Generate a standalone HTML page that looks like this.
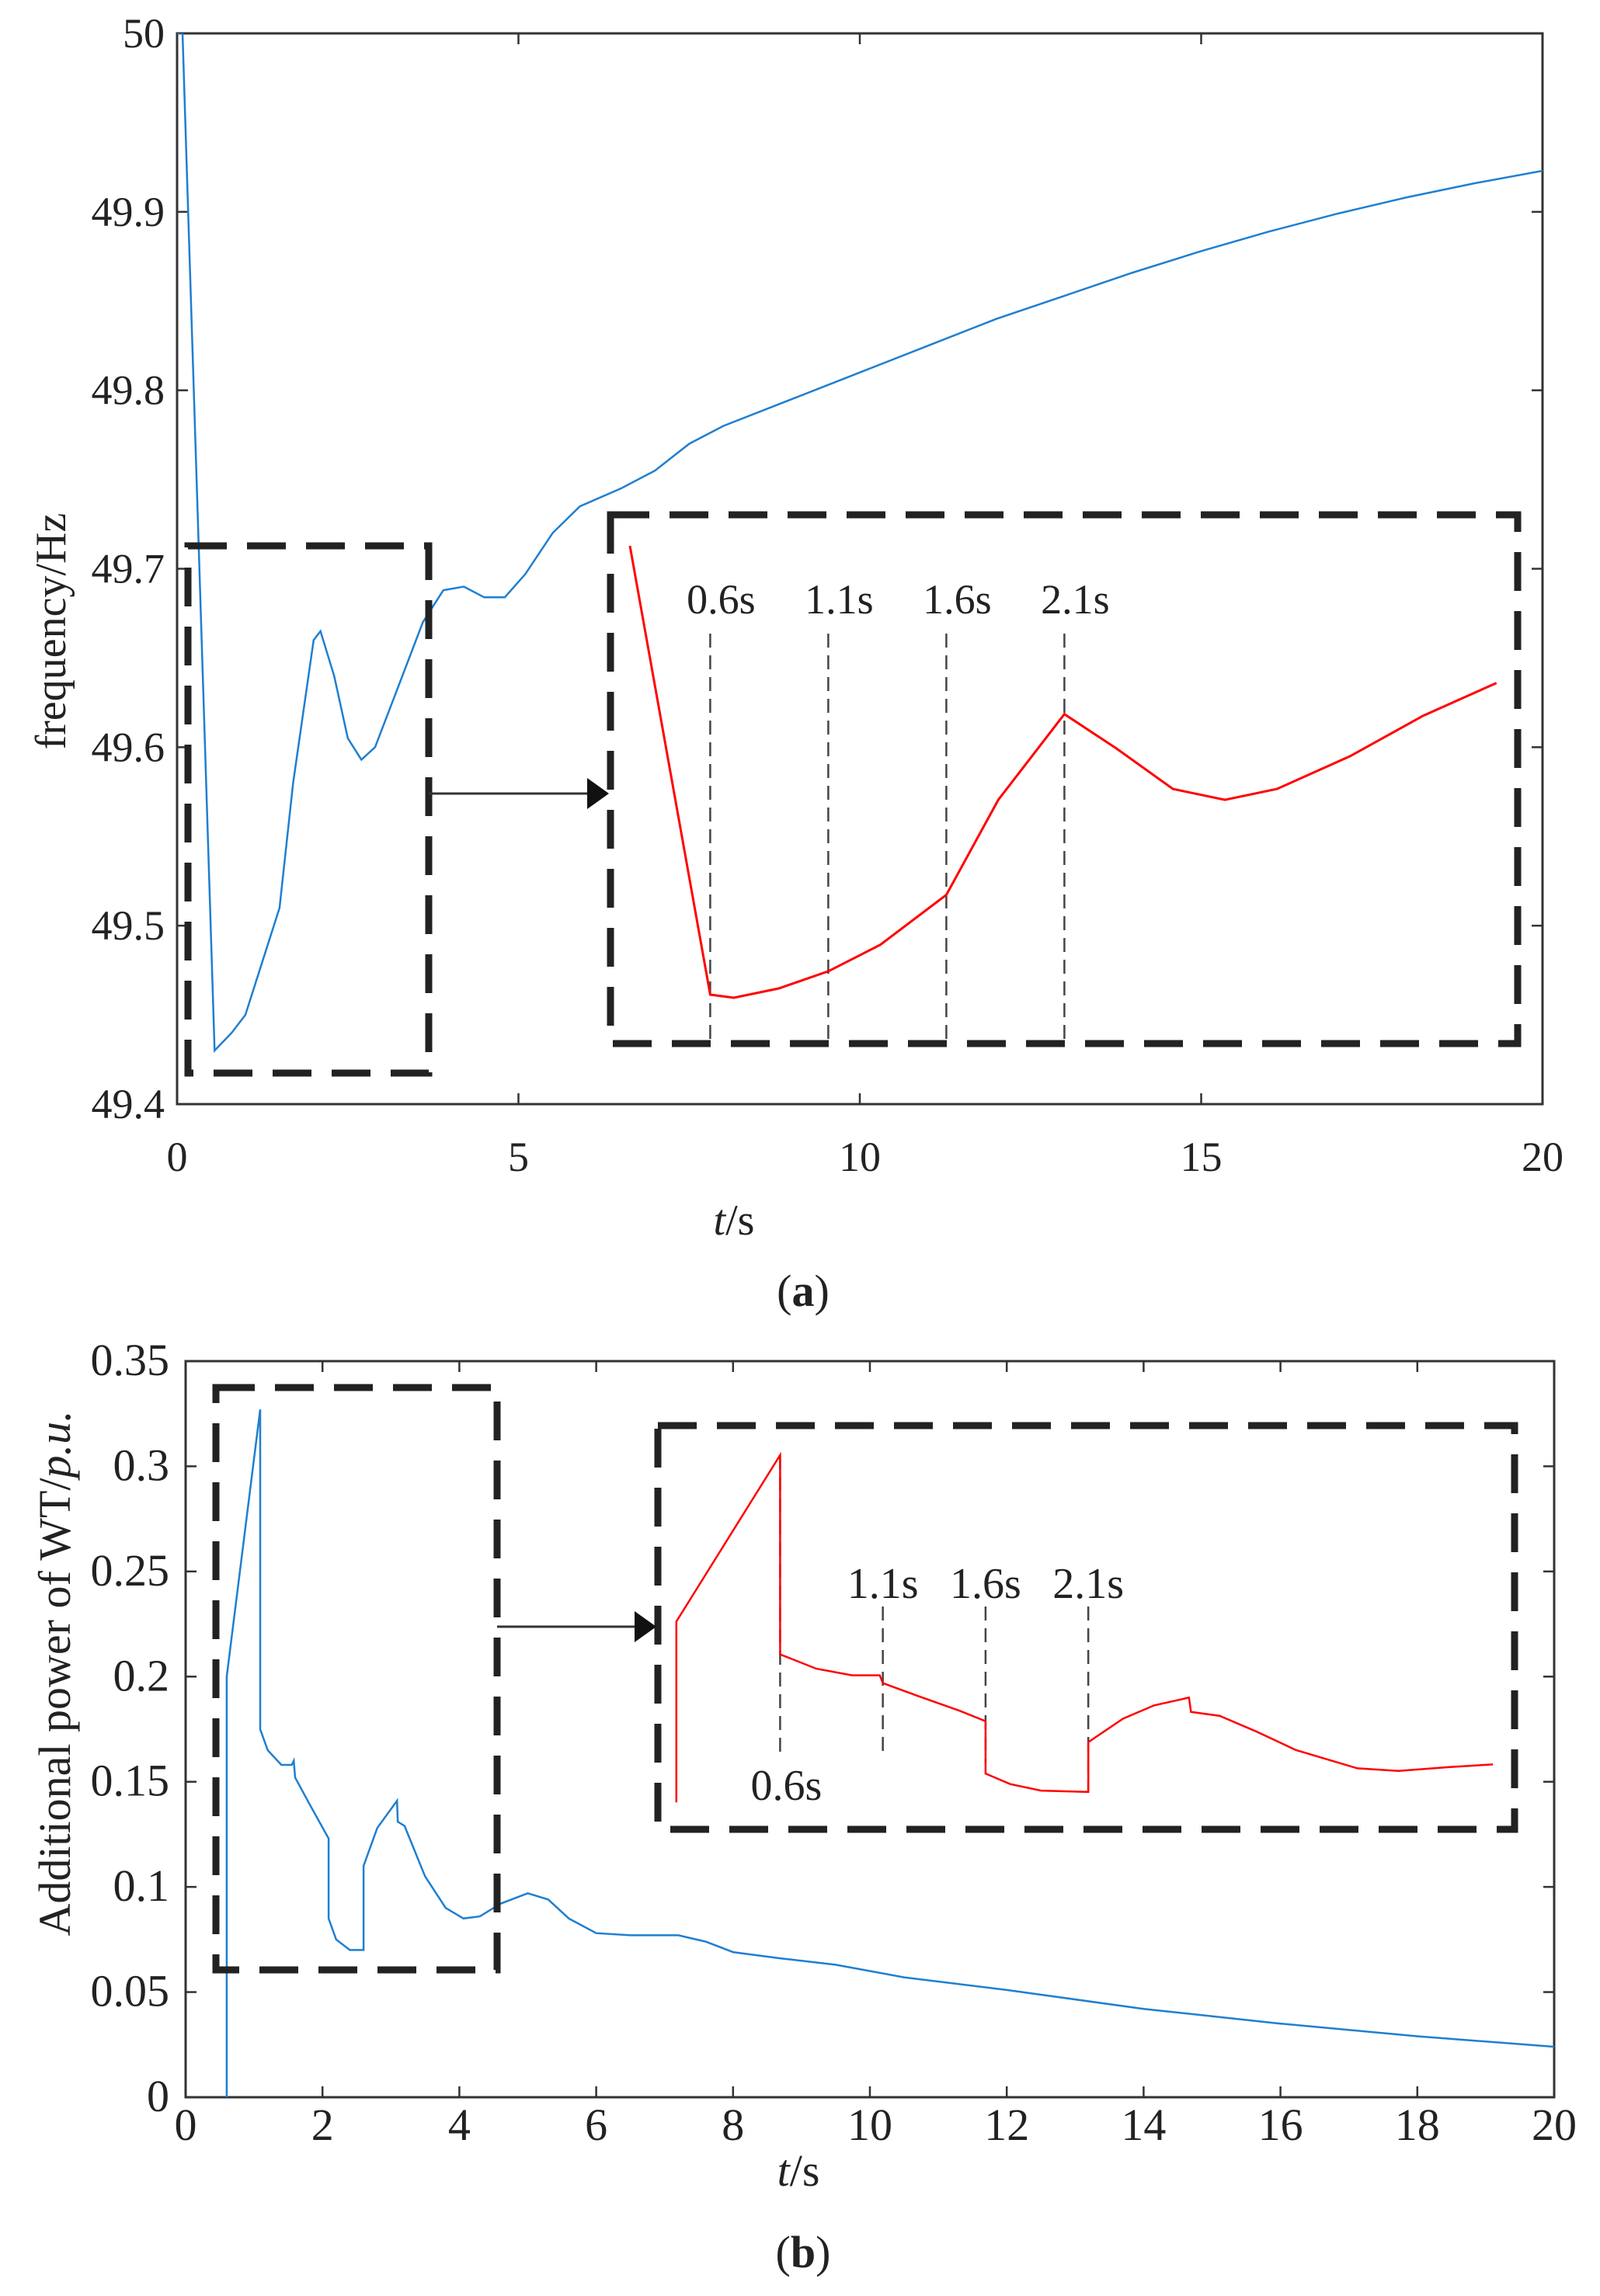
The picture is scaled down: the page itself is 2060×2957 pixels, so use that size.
<!DOCTYPE html>
<html><head><meta charset="utf-8">
<style>
html,body{margin:0;padding:0;background:#fff;}
svg{display:block;}
text{font-family:"Liberation Serif",serif;fill:#222;}
</style></head>
<body>
<svg id="fig" width="2060" height="2957" viewBox="0 0 2060 2957" xmlns="http://www.w3.org/2000/svg"></svg>
<script>
// ---------- data: chart (a) ----------
const aTime = [0,0.08,0.55,0.8,1.0,1.5,1.7,2.0,2.1,2.3,2.5,2.7,2.9,3.2,3.6,3.9,4.2,4.5,4.8,5.1,5.5,5.9,6.5,7.0,7.5,8,9,10,11,12,13,14,15,16,17,18,19,20];
const aFreq = [50,50,49.43,49.44,49.45,49.51,49.58,49.66,49.665,49.64,49.605,49.593,49.6,49.63,49.67,49.688,49.69,49.684,49.684,49.697,49.72,49.735,49.745,49.755,49.77,49.78,49.795,49.81,49.825,49.84,49.853,49.866,49.878,49.889,49.899,49.908,49.916,49.923];
const aYTicks = [49.4,49.5,49.6,49.7,49.8,49.9,50];
const aYTickLabels = ["49.4","49.5","49.6","49.7","49.8","49.9","50"];
const aXTicks = [0,5,10,15,20];
const aInsetTime = [0.26,0.6,0.7,0.89,1.1,1.32,1.6,1.82,2.1,2.32,2.56,2.78,3.0,3.31,3.62,3.93];
const aInsetFreq = [49.72,49.432,49.43,49.436,49.447,49.464,49.496,49.557,49.612,49.59,49.564,49.557,49.564,49.585,49.611,49.632];
const aMarkers = [0.6,1.1,1.6,2.1];
const aMarkerLabels = ["0.6s","1.1s","1.6s","2.1s"];
// ---------- data: chart (b) ----------
const bTime = [0.6,0.6,1.09,1.09,1.2,1.4,1.55,1.58,1.6,1.8,2.09,2.09,2.2,2.4,2.6,2.6,2.8,3.09,3.1,3.2,3.5,3.8,4.06,4.3,4.6,5.0,5.3,5.6,6.0,6.5,7.2,7.6,8.0,8.7,9.5,10.5,12,14,16,18,20];
const bPower = [0,0.2,0.327,0.175,0.165,0.158,0.158,0.16,0.152,0.14,0.123,0.085,0.075,0.07,0.07,0.11,0.128,0.141,0.131,0.129,0.105,0.09,0.085,0.086,0.092,0.097,0.094,0.085,0.078,0.077,0.077,0.074,0.069,0.066,0.063,0.057,0.051,0.042,0.035,0.029,0.024];
const bYTicks = [0,0.05,0.1,0.15,0.2,0.25,0.3,0.35];
const bYTickLabels = ["0","0.05","0.1","0.15","0.2","0.25","0.3","0.35"];
const bXTicks = [0,2,4,6,8,10,12,14,16,18,20];
const bInsetTime = [0.095,0.095,0.6,0.6,0.776,0.95,1.085,1.1,1.274,1.473,1.6,1.6,1.72,1.87,2.1,2.1,2.27,2.42,2.59,2.6,2.74,2.92,3.11,3.41,3.61,3.86,4.07];
const bInsetPower = [0.062,0.200,0.327,0.175,0.164,0.159,0.159,0.153,0.143,0.132,0.124,0.084,0.076,0.071,0.070,0.108,0.126,0.136,0.142,0.131,0.128,0.116,0.102,0.088,0.086,0.089,0.091];
const bMarkers = [0.6,1.1,1.6,2.1];
const bMarkerLabels = ["0.6s","1.1s","1.6s","2.1s"];

const NS="http://www.w3.org/2000/svg";
const svg=document.getElementById('fig');
function el(tag,attrs,parent,text){const e=document.createElementNS(NS,tag);for(const k in attrs)e.setAttribute(k,attrs[k]);if(text!==undefined)e.textContent=text;(parent||svg).appendChild(e);return e;}
function lin(d0,d1,r0,r1){return v=>r0+(v-d0)/(d1-d0)*(r1-r0);}
function pathD(xs,ys,fx,fy){return xs.map((t,i)=>(i?'L':'M')+fx(t).toFixed(1)+','+fy(ys[i]).toFixed(1)).join(' ');}

function axesFrame(g,L,T,R,B,xT,xs,yT,ys,yLab,xLabY,yLabX,fs){
  const fr=el('rect',{x:L,y:T,width:R-L,height:B-T,fill:'none',stroke:'#333','stroke-width':3},g);
  
  xT.forEach(v=>{const x=xs(v);
    el('line',{x1:x,y1:B,x2:x,y2:B-14,stroke:'#333','stroke-width':2.5},g);
    el('line',{x1:x,y1:T,x2:x,y2:T+14,stroke:'#333','stroke-width':2.5},g);
    const t=el('text',{x:x,y:xLabY,'font-size':fs,'text-anchor':'middle'},g,String(v));
    });
  yT.forEach((v,i)=>{const y=ys(v);
    el('line',{x1:L,y1:y,x2:L+14,y2:y,stroke:'#333','stroke-width':2.5},g);
    el('line',{x1:R,y1:y,x2:R-14,y2:y,stroke:'#333','stroke-width':2.5},g);
    const t=el('text',{x:yLabX,y:y+18,'font-size':fs,'text-anchor':'end'},g,yLab[i]);
    });
}
function dashBox(g,x,y,w,h,name){const r=el('rect',{x:x,y:y,width:w,height:h,fill:'none',stroke:'#222','stroke-width':9,'stroke-dasharray':'50 26'},g);
  }
function arrow(g,x1,x2,y,name){const a=el('g',{},g);
  el('line',{x1:x1,y1:y,x2:x2-24,y2:y,stroke:'#333','stroke-width':3},a);
  el('polygon',{points:`${x2-28},${y-20} ${x2},${y} ${x2-28},${y+20}`,fill:'#111'},a);}

// ===== chart (a) =====
const ga=el('g',{});
const axL=228,axR=1986,axT=43,axB=1422;
const ax=lin(0,20,axL,axR), ay=lin(49.4,50,axB,axT);
axesFrame(ga,axL,axT,axR,axB,aXTicks,ax,aYTicks,ay,aYTickLabels,1508,212,54);
const cpA=el('clipPath',{id:'cpa'},ga);el('rect',{x:axL,y:axT,width:axR-axL,height:axB-axT},cpA);
const la=el('path',{d:pathD(aTime,aFreq,ax,ay),fill:'none',stroke:'#1f7fd0','stroke-width':2.5,'clip-path':'url(#cpa)'},ga);

dashBox(ga,242,703,310,679,'zoom-source-box-a');
dashBox(ga,786,663,1168,681,'zoom-inset-box-a');
arrow(ga,552,784,1022,'zoom-arrow-a');
const aix=lin(0,1,732,1036), aiy=v=>1285-(v-49.43)*2007;
aMarkers.forEach((m,i)=>{const x=aix(m);
  const l=el('line',{x1:x,y1:816,x2:x,y2:1342,stroke:'#444','stroke-width':2.5,'stroke-dasharray':'18 10'},ga);
  
  const t=el('text',{x:x+14,y:790,'font-size':54,'text-anchor':'middle'},ga,aMarkerLabels[i]);
  });
const ra=el('path',{d:pathD(aInsetTime,aInsetFreq,aix,aiy),fill:'none',stroke:'#ff0000','stroke-width':3},ga);

let t1=el('text',{x:0,y:0,'font-size':56,'text-anchor':'middle',transform:'translate(84,813) rotate(-90)'},ga,'frequency/Hz');

t1=el('text',{x:945,y:1590,'font-size':56,'text-anchor':'middle'},ga);

el('tspan',{'font-style':'italic'},t1,'t');el('tspan',{},t1,'/s');
t1=el('text',{x:1034,y:1682,'font-size':58,'text-anchor':'middle'},ga);

el('tspan',{},t1,'(');el('tspan',{'font-weight':'bold'},t1,'a');el('tspan',{},t1,')');

// ===== chart (b) =====
const gb=el('g',{});
const bxL=239,bxR=2001,byT=1753,byB=2701;
const bx=lin(0,20,bxL,bxR), by=lin(0,0.35,byB,byT);
axesFrame(gb,bxL,byT,bxR,byB,bXTicks,bx,bYTicks,by,bYTickLabels,2756,218,58);
const lb=el('path',{d:pathD(bTime,bPower,bx,by),fill:'none',stroke:'#1f7fd0','stroke-width':2.5},gb);

dashBox(gb,278,1787,362,750,'zoom-source-box-b');
dashBox(gb,847,1836,1103,520,'zoom-inset-box-b');
arrow(gb,640,845,2095,'zoom-arrow-b');
const bix=lin(0,1,845.7,1110.2), biy=v=>1874+(0.327-v)*1688;
const bMarkTop=[1874,2069,2069,2069], bMarkBot=[2261,2265,2270,2307];
bMarkers.forEach((m,i)=>{const x=bix(m);
  const l=el('line',{x1:x,y1:bMarkTop[i],x2:x,y2:bMarkBot[i],stroke:'#444','stroke-width':2.5,'stroke-dasharray':'18 10'},gb);
  
  const t=el('text',{x:i===0?x+8:x,y:i===0?2318:2058,'font-size':56,'text-anchor':'middle'},gb,bMarkerLabels[i]);
  });
const rb=el('path',{d:pathD(bInsetTime,bInsetPower,bix,biy),fill:'none',stroke:'#ff0000','stroke-width':2.5},gb);

t1=el('text',{x:0,y:0,'font-size':58,'text-anchor':'middle',transform:'translate(90,2155) rotate(-90)'},gb);

el('tspan',{},t1,'Additional power of WT/');el('tspan',{'font-style':'italic'},t1,'p.u.');
t1=el('text',{x:1028,y:2815,'font-size':58,'text-anchor':'middle'},gb);

el('tspan',{'font-style':'italic'},t1,'t');el('tspan',{},t1,'/s');
t1=el('text',{x:1034,y:2920,'font-size':58,'text-anchor':'middle'},gb);

el('tspan',{},t1,'(');el('tspan',{'font-weight':'bold'},t1,'b');el('tspan',{},t1,')');
</script>
</body></html>
